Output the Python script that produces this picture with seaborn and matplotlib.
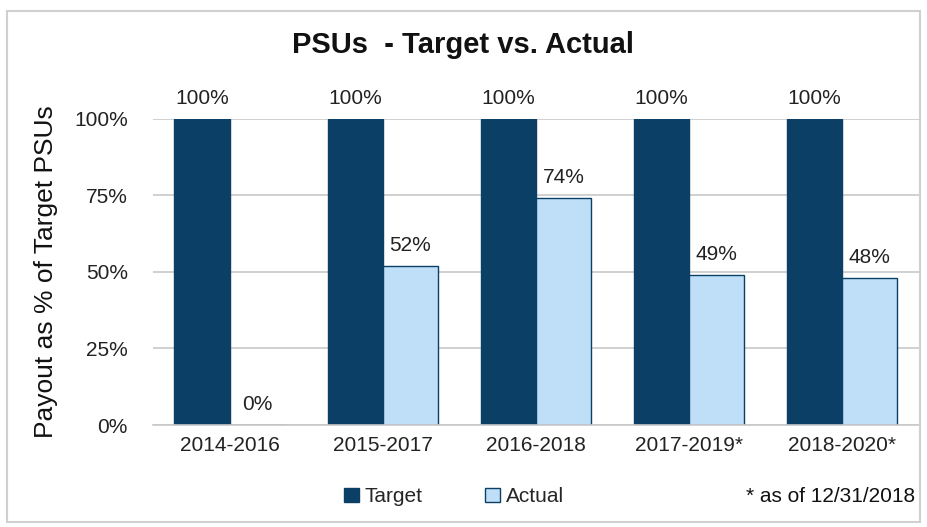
import matplotlib
matplotlib.use("Agg")
import matplotlib.pyplot as plt
import seaborn as sns
import pandas as pd
from matplotlib.patches import Rectangle, Patch

categories = ["2014-2016", "2015-2017", "2016-2018", "2017-2019*", "2018-2020*"]
target = [100, 100, 100, 100, 100]
actual = [0, 52, 74, 49, 48]
yticks = [0, 25, 50, 75, 100]

df = pd.DataFrame({
    "Period": categories * 2,
    "Series": ["Target"] * len(categories) + ["Actual"] * len(categories),
    "Value": target + actual,
})

sns.set_theme(style="white")
plt.rcParams["font.family"] = ["Liberation Sans", "DejaVu Sans"]

navy = "#0B3F66"
light = "#BEDFF7"

fig = plt.figure(figsize=(9.27, 5.27), dpi=100)
ax = fig.add_axes([0.165, 0.1935, 0.826, 0.581])

sns.barplot(data=df, x="Period", y="Value", hue="Series",
            palette={"Target": navy, "Actual": light}, width=0.72,
            ax=ax, legend=False, saturation=1)

for p, s in zip(ax.patches, ["Target"] * 5 + ["Actual"] * 5):
    if s == "Actual":
        p.set_edgecolor("#0B3F66")
        p.set_linewidth(1.0)
    else:
        p.set_edgecolor(navy)

for cont in ax.containers:
    ax.bar_label(cont, labels=[f"{v:.0f}%" for v in cont.datavalues],
                 padding=8, fontsize=15, color="#222222", clip_on=False)

ax.set_xlim(-0.5, 4.5)
ax.set_ylim(0, 100)
ax.set_yticks(yticks)
ax.set_yticklabels([f"{v}%" for v in yticks], fontsize=15, color="#222222")
ax.tick_params(axis="x", labelsize=15, colors="#222222", pad=8, length=0)
ax.tick_params(axis="y", pad=18, length=0)
ax.yaxis.grid(True, color="#C8C8C8", linewidth=1.2)
ax.set_axisbelow(True)
for s in ["top", "right", "left"]:
    ax.spines[s].set_visible(False)
ax.spines["bottom"].set_color("#C8C8C8")
ax.spines["bottom"].set_linewidth(1.2)
ax.set_xlabel("")
ax.set_ylabel("Payout as % of Target PSUs", fontsize=19, color="#111111", labelpad=12)

fig.text(0.5, 0.915, "PSUs  - Target vs. Actual", ha="center", va="center",
         fontsize=21, fontweight="bold", color="#111111")

handles = [Patch(facecolor=navy, edgecolor=navy, label="Target"),
           Patch(facecolor=light, edgecolor=navy, label="Actual")]
fig.legend(handles=handles, loc="center", bbox_to_anchor=(0.49, 0.057), ncol=2,
           frameon=False, fontsize=15, handlelength=0.7, handleheight=0.7,
           handletextpad=0.3, columnspacing=3.0)
fig.text(0.987, 0.057, "* as of 12/31/2018", ha="right", va="center",
         fontsize=15, color="#111111")

fig.patches.append(Rectangle((0.008, 0.01), 0.984, 0.97, transform=fig.transFigure,
                             fill=False, edgecolor="#D0D0D0", linewidth=1.5))

fig.savefig("out.png", dpi=100)
